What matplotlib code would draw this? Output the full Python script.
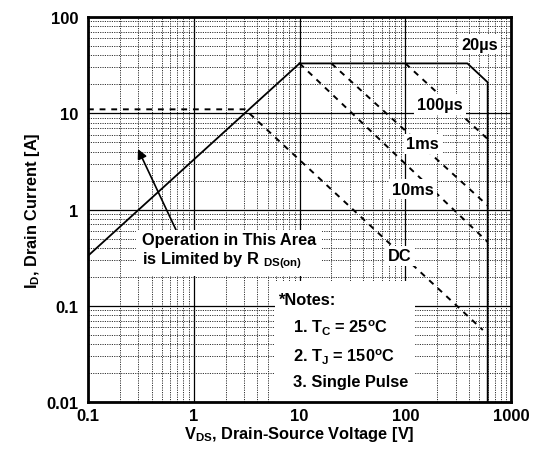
import matplotlib
matplotlib.use('Agg')
import matplotlib.pyplot as plt
from matplotlib.ticker import LogLocator, NullFormatter
from matplotlib.patches import Rectangle

plt.rcParams['font.family'] = 'Liberation Sans'
plt.rcParams['font.weight'] = 'bold'
plt.rcParams['mathtext.fontset'] = 'custom'
plt.rcParams['mathtext.rm'] = 'Liberation Sans:bold'
plt.rcParams['mathtext.it'] = 'Liberation Sans:bold'
plt.rcParams['mathtext.bf'] = 'Liberation Sans:bold'
plt.rcParams['mathtext.sf'] = 'Liberation Sans:bold'
plt.rcParams['mathtext.default'] = 'rm'

# safe operating area curves
rds_v = [0.1, 10]
rds_i = [0.33, 33]

us20_v = [10, 386, 600, 600]
us20_i = [33, 33, 21, 0.01]

us100_v = [100, 600]
us100_i = [33, 5.4]

ms1_v = [20, 600]
ms1_i = [33, 1.1]

ms10_v = [10, 600]
ms10_i = [33, 0.46]

dc_v = [0.1, 3.05, 540]
dc_i = [11, 11, 0.056]

x_ticks = [0.1, 1, 10, 100, 1000]
x_labels = ['0.1', '1', '10', '100', '1000']
y_ticks = [0.01, 0.1, 1, 10, 100]
y_labels = ['0.01', '0.1', '1', '10', '100']

fs = 11.8

fig = plt.figure(figsize=(5.33, 4.52), dpi=100)
ax = fig.add_axes([0.165, 0.1084, 0.794, 0.8516])
ax.set_xscale('log')
ax.set_yscale('log')
ax.set_xlim(0.1, 1000)
ax.set_ylim(0.01, 100)

ax.xaxis.set_minor_locator(LogLocator(base=10, subs=range(2, 10)))
ax.yaxis.set_minor_locator(LogLocator(base=10, subs=range(2, 10)))
ax.set_xticks(x_ticks)
ax.set_xticklabels(x_labels)
ax.set_yticks(y_ticks)
ax.set_yticklabels(y_labels)
ax.xaxis.set_minor_formatter(NullFormatter())
ax.yaxis.set_minor_formatter(NullFormatter())
ax.tick_params(which='both', length=0, labelsize=12)
ax.tick_params(axis='x', pad=4)
ax.tick_params(axis='y', pad=7)
for lab in ax.get_xticklabels() + ax.get_yticklabels():
    lab.set_fontweight('bold')

ax.grid(which='major', color='black', linewidth=0.9, linestyle='-')
ax.grid(which='minor', color='#333333', linewidth=0.7, linestyle=(0, (1.2, 1.2)))
ax.set_axisbelow(True)
for s in ax.spines.values():
    s.set_linewidth(2)

dash = (0, (3, 3))
ax.plot(rds_v, rds_i, color='black', lw=1.3, zorder=3)
ax.plot(us20_v, us20_i, color='black', lw=1.3, zorder=3)
ax.plot(us100_v, us100_i, color='black', lw=1.4, ls=dash, zorder=3)
ax.plot(ms1_v, ms1_i, color='black', lw=1.4, ls=dash, zorder=3)
ax.plot(ms10_v, ms10_i, color='black', lw=1.4, ls=dash, zorder=3)
ax.plot(dc_v, dc_i, color='black', lw=1.4, ls=dash, zorder=3)

box = dict(facecolor='white', edgecolor='none', pad=2)
ax.text(509, 52.5, '20µs', ha='center', va='center', fontsize=fs, fontweight='bold', bbox=box, zorder=4)
ax.text(213, 12.3, '100µs', ha='center', va='center', fontsize=fs, fontweight='bold', bbox=box, zorder=4)
ax.text(146, 4.8, '1ms', ha='center', va='center', fontsize=fs, fontweight='bold', bbox=box, zorder=4)
ax.text(118, 1.63, '10ms', ha='center', va='center', fontsize=fs, fontweight='bold', bbox=box, zorder=4)
ax.text(89, 0.33, 'DC', ha='center', va='center', fontsize=fs, fontweight='bold', bbox=box, zorder=4)

ax.annotate('Operation in This Area\nis Limited by R $_{\\mathrm{DS(on)}}$',
            xy=(0.297, 4.25), xytext=(0.324, 0.373),
            ha='left', va='center', fontsize=fs, fontweight='bold', linespacing=1.2,
            bbox=dict(facecolor='white', edgecolor='none', pad=4),
            arrowprops=dict(arrowstyle='-|>', color='black', lw=1.2,
                            mutation_scale=14, shrinkA=0, shrinkB=0,
                            relpos=(0.2, 1.0)),
            zorder=4)

ax.add_patch(Rectangle((5.86, 0.0101), 123.6 - 5.86, 0.181 - 0.0101,
                       facecolor='white', edgecolor='none', zorder=2))
ax.text(6.26, 0.1175, '*Notes:', ha='left', va='center', fontsize=fs, fontweight='bold', zorder=4)
ax.text(8.7, 0.0601, '1. T$_\\mathrm{C}$ = 25$^\\mathrm{o}$C', ha='left', va='center', fontsize=fs, fontweight='bold', zorder=4)
ax.text(8.7, 0.0301, '2. T$_\\mathrm{J}$ = 150$^\\mathrm{o}$C', ha='left', va='center', fontsize=fs, fontweight='bold', zorder=4)
ax.text(8.7, 0.01614, '3. Single Pulse', ha='left', va='center', fontsize=fs, fontweight='bold', zorder=4)

ax.set_xlabel('V$_\\mathrm{DS}$, Drain-Source Voltage [V]', fontsize=fs, fontweight='bold', labelpad=1)
ax.set_ylabel('I$_\\mathrm{D}$, Drain Current [A]', fontsize=fs, fontweight='bold', labelpad=3)

fig.savefig('out.png', dpi=100)
